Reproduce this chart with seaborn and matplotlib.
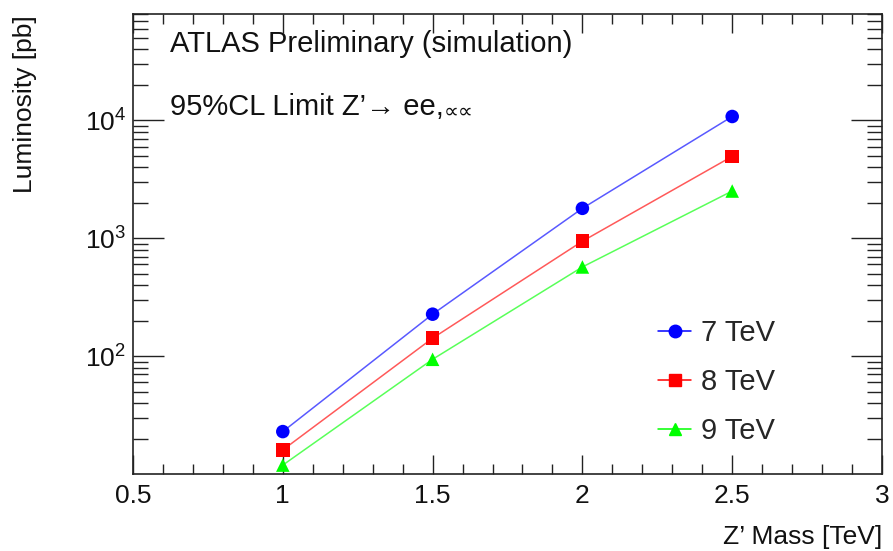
import numpy as np
import pandas as pd
import matplotlib
matplotlib.use("Agg")
import matplotlib.pyplot as plt
from matplotlib.ticker import LogLocator, FixedLocator, MultipleLocator, NullFormatter
from matplotlib.lines import Line2D
import seaborn as sns

# Data
mass = [1.0, 1.5, 2.0, 2.5]
lumi_7 = [22.9, 227, 1795, 10800]
lumi_8 = [16.0, 142, 944, 4955]
lumi_9 = [11.9, 94, 571, 2518]
series = ["7 TeV", "8 TeV", "9 TeV"]
colors = ["#0000ff", "#ff0000", "#00ff00"]
markers = ["o", "s", "^"]
xtick_labels = ["0.5", "1", "1.5", "2", "2.5", "3"]

df = pd.DataFrame({
    "mass": mass * 3,
    "lumi": lumi_7 + lumi_8 + lumi_9,
    "energy": [series[0]] * 4 + [series[1]] * 4 + [series[2]] * 4,
})

sns.set_theme(style="ticks")
plt.rcParams["font.family"] = ["Liberation Sans", "DejaVu Sans"]
plt.rcParams["mathtext.fontset"] = "custom"
plt.rcParams["mathtext.rm"] = "Liberation Sans"
plt.rcParams["mathtext.it"] = "Liberation Sans"

fig = plt.figure(figsize=(8.93, 5.51), dpi=100)
ax = fig.add_axes([133 / 893, 1 - 474 / 551, (882 - 133) / 893, (474 - 14) / 551])

palette = dict(zip(series, colors))
sns.lineplot(data=df, x="mass", y="lumi", hue="energy", palette=palette,
             ax=ax, legend=False, linewidth=1.1, alpha=0.65)
for s, c, m in zip(series, colors, markers):
    sub = df[df["energy"] == s]
    sns.scatterplot(data=sub, x="mass", y="lumi", color=c, marker=m, s=95,
                    edgecolor="none", ax=ax, legend=False, zorder=3)

ax.set_yscale("log")
ax.set_xlim(0.5, 3.0)
ax.set_ylim(10.0, 8e4)

ax.xaxis.set_minor_locator(MultipleLocator(0.1))
ax.yaxis.set_major_locator(FixedLocator([1e2, 1e3, 1e4]))
ax.yaxis.set_minor_locator(LogLocator(base=10, subs=np.arange(2, 10), numticks=20))
ax.yaxis.set_minor_formatter(NullFormatter())
ax.set_xticks([0.5, 1, 1.5, 2, 2.5, 3])
ax.set_xticklabels(xtick_labels)
ax.set_yticklabels([r"$10^{2}$", r"$10^{3}$", r"$10^{4}$"])

ax.tick_params(axis="x", which="major", direction="in", length=14, width=1.0,
               top=True, labelsize=19, pad=7, colors="#222222", labelcolor="#111111")
ax.tick_params(axis="x", which="minor", direction="in", length=7, width=1.0, top=True,
               colors="#222222")
ax.tick_params(axis="y", which="major", direction="in", length=22, width=1.0,
               right=True, labelsize=19, pad=5, colors="#222222", labelcolor="#111111")
ax.tick_params(axis="y", which="minor", direction="in", length=11, width=1.0, right=True,
               colors="#222222")
for sp in ax.spines.values():
    sp.set_linewidth(1.2)
    sp.set_color("#222222")

ax.set_xlabel("Z’ Mass [TeV]", fontsize=19, color="#111111")
ax.set_ylabel("Luminosity [pb]", fontsize=19, color="#111111")
ax.xaxis.set_label_coords(1.0, -0.137)
ax.xaxis.label.set_horizontalalignment("right")
ax.xaxis.label.set_verticalalignment("center")
ax.yaxis.set_label_coords(-0.16, 0.998)
ax.yaxis.label.set_rotation_mode("default")
ax.yaxis.label.set_verticalalignment("top")
ax.yaxis.label.set_horizontalalignment("left")

ax.text(0.049, 0.935, "ATLAS Preliminary (simulation)", transform=ax.transAxes,
        fontsize=21, va="center", ha="left", color="#111111")
t2 = ax.text(0.049, 0.797, "95%CL Limit Z’→ ee,", transform=ax.transAxes,
             fontsize=21, va="center", ha="left", color="#111111")
ax.annotate("∝∝", xy=(1.0, 0.36), xycoords=t2, family=["DejaVu Sans"],
            fontsize=15, va="center", ha="left", color="#111111")

handles = [Line2D([0], [0], color=c, marker=m, markersize=9, linewidth=1.1,
                  markeredgecolor=c) for c, m in zip(colors, markers)]
leg = ax.legend(handles, series, loc="upper left", bbox_to_anchor=(0.685, 0.362),
                frameon=False, fontsize=21, handlelength=1.15, labelspacing=0.72,
                handletextpad=0.35, borderaxespad=0)

fig.savefig("out.png", dpi=100)
